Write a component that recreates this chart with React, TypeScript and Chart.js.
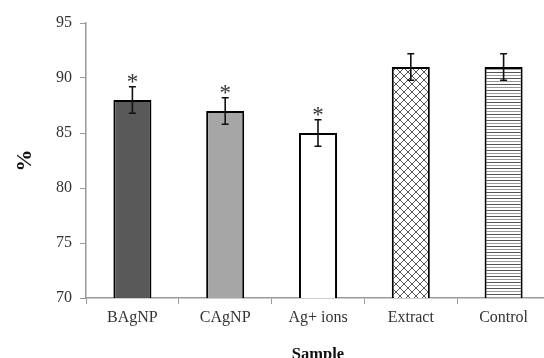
import React, { useEffect, useRef } from "react";
import { Chart, registerables } from "chart.js";

Chart.register(...registerables);

const categories = ["BAgNP", "CAgNP", "Ag+ ions", "Extract", "Control"];
const values = [88, 87, 85, 91, 91];
const errors = [1.2, 1.2, 1.2, 1.2, 1.2];
const marks = ["*", "*", "*", "", ""];
const yTicks = [70, 75, 80, 85, 90, 95];

function crossPattern(): CanvasPattern | string {
  const c = document.createElement("canvas");
  c.width = 8;
  c.height = 8;
  const g = c.getContext("2d");
  if (!g) return "#ccc";
  g.fillStyle = "#fff";
  g.fillRect(0, 0, 8, 8);
  g.strokeStyle = "#555";
  g.lineWidth = 1;
  g.beginPath();
  g.moveTo(0, 0);
  g.lineTo(8, 8);
  g.moveTo(8, 0);
  g.lineTo(0, 8);
  g.stroke();
  return g.createPattern(c, "repeat") || "#ccc";
}

function stripePattern(): CanvasPattern | string {
  const c = document.createElement("canvas");
  c.width = 4;
  c.height = 6;
  const g = c.getContext("2d");
  if (!g) return "#ddd";
  g.fillStyle = "#fff";
  g.fillRect(0, 0, 4, 6);
  g.fillStyle = "#555";
  g.fillRect(0, 0, 4, 1);
  g.fillStyle = "#9a9a9a";
  g.fillRect(0, 3, 4, 1);
  return g.createPattern(c, "repeat") || "#ddd";
}

const errorBarPlugin = {
  id: "errorBars",
  afterDatasetsDraw(chart: any) {
    const { ctx } = chart;
    const meta = chart.getDatasetMeta(0);
    const yScale = chart.scales.y;
    ctx.save();
    meta.data.forEach((bar: any, i: number) => {
      const x = bar.x;
      const top = yScale.getPixelForValue(values[i] + errors[i]);
      const bot = yScale.getPixelForValue(values[i] - errors[i]);
      ctx.strokeStyle = "#111";
      ctx.lineWidth = 1.6;
      ctx.beginPath();
      ctx.moveTo(x, top);
      ctx.lineTo(x, bot);
      ctx.moveTo(x - 3.5, top);
      ctx.lineTo(x + 3.5, top);
      ctx.moveTo(x - 3.5, bot);
      ctx.lineTo(x + 3.5, bot);
      ctx.stroke();
      if (marks[i]) {
        ctx.fillStyle = "#333";
        ctx.font = "23px 'Liberation Serif', 'Times New Roman', serif";
        ctx.textAlign = "center";
        ctx.textBaseline = "alphabetic";
        ctx.fillText(marks[i], x, top + 2);
      }
    });
    ctx.restore();
  },
};

export default function App() {
  const ref = useRef<HTMLCanvasElement | null>(null);

  useEffect(() => {
    if (!ref.current) return;
    const fills = ["#595959", "#a6a6a6", "#ffffff", crossPattern(), stripePattern()];
    const serif = "'Liberation Serif', 'Times New Roman', serif";
    const chart = new Chart(ref.current, {
      type: "bar",
      data: {
        labels: categories,
        datasets: [
          {
            data: values,
            backgroundColor: fills as any,
            borderColor: "#000",
            borderWidth: 2,
            barPercentage: 0.41,
            categoryPercentage: 1,
          },
        ],
      },
      options: {
        responsive: false,
        animation: false,
        devicePixelRatio: 1,
        layout: { padding: { top: 23, right: 0, left: 0, bottom: 0 } },
        plugins: {
          legend: { display: false },
          tooltip: { enabled: false },
        },
        scales: {
          x: {
            afterFit: (s: any) => {
              s.height = 70;
            },
            grid: {
              display: true,
              drawOnChartArea: false,
              drawTicks: true,
              tickLength: 6,
              color: "#9a9a9a",
              lineWidth: 1,
            },
            border: { display: true, color: "#9a9a9a", width: 1.5 },
            ticks: {
              color: "#333",
              padding: 4,
              font: { family: serif, size: 16 },
            },
            title: {
              display: true,
              text: "Sample",
              color: "#111",
              font: { family: serif, size: 16.5, weight: "bold" },
              padding: { top: 0, bottom: 3 },
            },
          },
          y: {
            min: 70,
            max: 95,
            afterFit: (s: any) => {
              s.width = 86;
            },
            afterBuildTicks: (s: any) => {
              s.ticks = yTicks.map((v) => ({ value: v }));
            },
            grid: {
              display: true,
              drawOnChartArea: false,
              drawTicks: true,
              tickLength: 6,
              color: "#9a9a9a",
              lineWidth: 1,
            },
            border: { display: true, color: "#9a9a9a", width: 1.5 },
            ticks: {
              color: "#333",
              padding: 8,
              font: { family: serif, size: 16 },
            },
            title: {
              display: true,
              text: "%",
              color: "#111",
              font: { family: serif, size: 22, weight: "bold" },
              padding: { top: 12, bottom: 0 },
            },
          },
        },
      },
      plugins: [errorBarPlugin],
    });
    return () => chart.destroy();
  }, []);

  return (
    <div style={{ position: "fixed", left: 0, top: 0, width: 550, height: 368, background: "#fff" }}>
      <canvas ref={ref} width={550} height={368} style={{ display: "block" }} />
    </div>
  );
}
